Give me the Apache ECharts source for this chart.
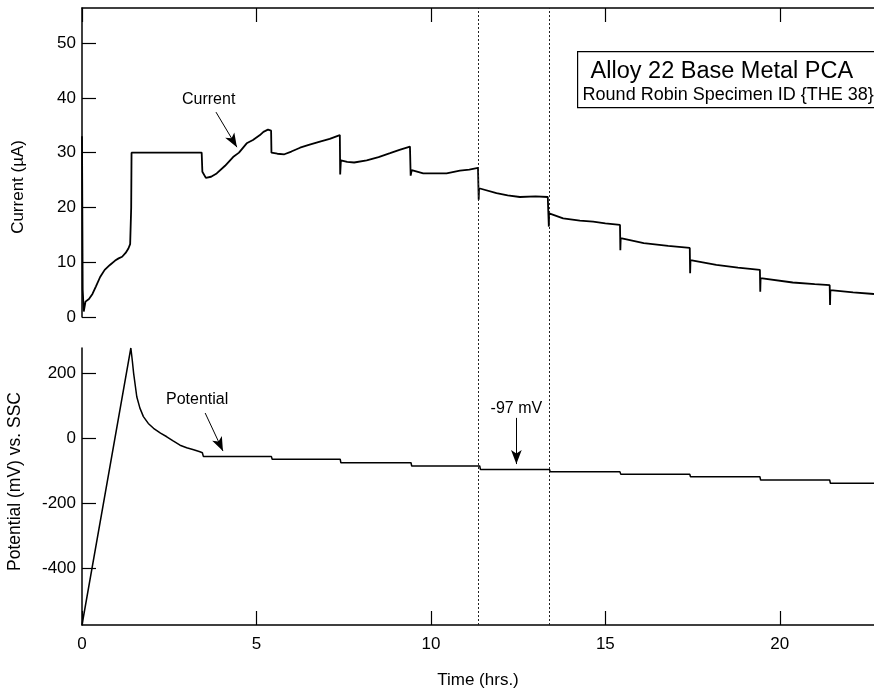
<!DOCTYPE html>
<html>
<head>
<meta charset="utf-8">
<script src="https://cdn.jsdelivr.net/npm/echarts@6/dist/echarts.min.js"></script>
<style>
html,body{margin:0;padding:0;background:#fff;}
#c{width:874px;height:691px;}
</style>
</head>
<body>
<div id="c"></div>
<script>
// ---- data ----
const currentTime = [0, 0.02, 0.05, 0.1, 0.2, 0.3, 0.4, 0.52, 0.65, 0.8, 0.95, 1.05, 1.15, 1.25, 1.33, 1.38, 1.41, 1.42,
  3.43, 3.45, 3.55, 3.7, 3.86, 4.1, 4.33, 4.5, 4.72, 4.9, 5.1, 5.2, 5.33, 5.42,
  5.43, 5.6, 5.8, 6.0, 6.25, 6.5, 6.82, 7.1, 7.39,
  7.4, 7.42, 7.6, 7.8, 8.16, 8.5, 8.83, 9.1, 9.4,
  9.42, 9.45, 9.78, 10.1, 10.45, 10.83, 11.1, 11.35,
  11.37, 11.38, 11.88, 12.2, 12.55, 13.0, 13.35,
  13.38, 13.39, 13.79, 14.27, 14.65, 15.0, 15.42,
  15.43, 15.44, 16.1, 16.8, 17.42,
  17.43, 17.44, 18.18, 18.8, 19.43,
  19.44, 19.45, 20.37, 21.0, 21.43,
  21.44, 21.45, 22.1, 22.7];
const currentValue = [33, 5, 1.0, 2.8, 3.3, 4.2, 5.6, 7.3, 8.6, 9.5, 10.3, 10.7, 11.0, 11.7, 12.5, 13.3, 20, 30,
  30, 26.5, 25.4, 25.6, 26.2, 27.6, 29.2, 30.0, 31.7, 32.3, 33.2, 33.8, 34.2, 34.0,
  30.0, 29.8, 29.7, 30.2, 30.9, 31.4, 32.0, 32.5, 33.2,
  26.0, 28.6, 28.3, 28.2, 28.6, 29.2, 29.9, 30.5, 31.1,
  25.8, 26.8, 26.2, 26.2, 26.2, 26.7, 26.9, 27.2,
  21.4, 23.5, 22.6, 22.2, 21.9, 22.0, 21.9,
  16.5, 18.9, 18.0, 17.6, 17.4, 17.1, 16.8,
  12.2, 14.4, 13.5, 13.0, 12.6,
  8.0, 10.4, 9.5, 9.0, 8.6,
  4.6, 7.1, 6.3, 6.0, 5.8,
  2.2, 4.9, 4.5, 4.2];

const potentialTime = [0, 1.40, 1.44, 1.48, 1.57, 1.66, 1.76, 1.9, 2.05, 2.25, 2.43, 2.6, 2.81, 3.0, 3.2, 3.38, 3.45,
  3.48, 5.43, 5.45, 7.4, 7.42, 9.43, 9.45, 11.4, 11.42, 13.4, 13.42, 15.42, 15.44, 17.42, 17.44, 19.43, 19.45, 21.43, 21.45, 22.7];
const potentialValue = [-575, 277, 240, 199, 127, 92, 66, 45, 30, 15, 4, -8, -22, -30, -36, -42, -45,
  -57, -57, -65, -65, -76, -76, -86, -86, -97, -97, -104, -104, -111, -111, -119, -119, -129, -129, -139, -139];

const xTicks = [0, 5, 10, 15, 20];
const currentTicks = [0, 10, 20, 30, 40, 50];
const potentialTicks = [-400, -200, 0, 200];
const markerTimes = [11.37, 13.4];

const titleMain = 'Alloy 22 Base Metal PCA';
const titleSub = 'Round Robin Specimen ID {THE 38}';
const xName = 'Time (hrs.)';
const currentName = 'Current (\u00B5A)';
const potentialName = 'Potential (mV) vs. SSC';

// annotation anchors (data units)
const currentNote = {text: 'Current', at: [3.63, 39.6], from: [3.84, 37.4], to: [4.44, 31.0]};
const potentialNote = {text: 'Potential', at: [3.30, 117], from: [3.53, 77], to: [4.04, -40]};
const mvNote = {text: '-97 mV', at: [12.45, 92], from: [12.45, 62], to: [12.45, -80]};

// ---- chart ----
const FONT = '"Liberation Sans", Arial, Helvetica, sans-serif';
const BLK = '#000';
const pair = (xs, ys) => xs.map((x, i) => [x, ys[i]]);

const chart = echarts.init(document.getElementById('c'), null, {renderer: 'canvas'});

const axisCommon = {
  axisLine: {show: true, onZero: false, lineStyle: {color: BLK, width: 1.5}},
  axisTick: {show: true, inside: true, length: 14, lineStyle: {color: BLK, width: 1.2}},
  splitLine: {show: false},
  axisLabel: {color: BLK, fontFamily: FONT, fontSize: 17}
};

function arrowLine(note) {
  return [{coord: note.from}, {coord: note.to}];
}
function notePoint(note) {
  return {coord: note.at, value: note.text, name: note.text};
}

const option = {
  animation: false,
  backgroundColor: '#fff',
  grid: [
    {left: 82, right: 0, top: 8, height: 309},
    {left: 82, right: 0, top: 348, height: 277},
    {left: 82, right: 0, top: 8, height: 617}
  ],
  xAxis: [
    {gridIndex: 0, type: 'value', min: 0, max: 22.7, show: false},
    Object.assign({}, axisCommon, {gridIndex: 0, type: 'value', min: 0, max: 22.7, position: 'top',
      axisTick: Object.assign({}, axisCommon.axisTick, {customValues: xTicks}),
      axisLabel: {show: false}}),
    Object.assign({}, axisCommon, {gridIndex: 1, type: 'value', min: 0, max: 22.7, position: 'bottom',
      axisTick: Object.assign({}, axisCommon.axisTick, {customValues: xTicks}),
      axisLabel: Object.assign({}, axisCommon.axisLabel, {customValues: xTicks, margin: 11}),
      name: xName, nameLocation: 'middle', nameGap: 47,
      nameTextStyle: {color: BLK, fontFamily: FONT, fontSize: 17}}),
    {gridIndex: 2, type: 'value', min: 0, max: 22.7, show: false}
  ],
  yAxis: [
    Object.assign({}, axisCommon, {gridIndex: 0, type: 'value', min: 0, max: 56.4,
      axisTick: Object.assign({}, axisCommon.axisTick, {customValues: currentTicks}),
      axisLabel: Object.assign({}, axisCommon.axisLabel, {customValues: currentTicks, margin: 6})}),
    Object.assign({}, axisCommon, {gridIndex: 1, type: 'value', min: -575, max: 277,
      axisTick: Object.assign({}, axisCommon.axisTick, {customValues: potentialTicks}),
      axisLabel: Object.assign({}, axisCommon.axisLabel, {customValues: potentialTicks, margin: 6})}),
    {gridIndex: 2, type: 'value', min: 0, max: 1, show: false}
  ],
  graphic: [
    {type: 'text', left: 10, top: 140, rotation: Math.PI / 2,
      style: {text: currentName, fill: BLK, font: '17px ' + FONT}},
    {type: 'text', left: 6, top: 392, rotation: Math.PI / 2,
      style: {text: potentialName, fill: BLK, font: '17.5px ' + FONT}},
    {type: 'group', left: 577, top: 51, children: [
      {type: 'rect', shape: {x: 0, y: 0, width: 320, height: 56},
        style: {fill: '#fff', stroke: BLK, lineWidth: 1.2}},
      {type: 'text', x: 13, y: 8, style: {text: titleMain, fill: BLK, font: '23.5px ' + FONT}},
      {type: 'text', x: 5, y: 34, style: {text: titleSub, fill: BLK, font: '18px ' + FONT}}
    ]}
  ],
  series: [
    {
      name: 'Current', type: 'line', xAxisIndex: 0, yAxisIndex: 0,
      data: pair(currentTime, currentValue), showSymbol: false, symbol: 'none',
      lineStyle: {color: BLK, width: 1.8}, z: 3,
      markLine: {silent: true, symbol: ['none', 'arrow'], symbolSize: [8, 14],
        lineStyle: {color: BLK, width: 1, type: 'solid'}, label: {show: false},
        data: [arrowLine(currentNote)]},
      markPoint: {symbol: 'circle', symbolSize: 0, silent: true,
        label: {show: true, position: 'inside', color: BLK, fontFamily: FONT, fontSize: 16,
          formatter: p => p.name},
        data: [notePoint(currentNote)]}
    },
    {
      name: 'Potential', type: 'line', xAxisIndex: 2, yAxisIndex: 1,
      data: pair(potentialTime, potentialValue), showSymbol: false, symbol: 'none',
      lineStyle: {color: BLK, width: 1.5}, z: 3,
      markLine: {silent: true, symbol: ['none', 'arrow'], symbolSize: [8, 14],
        lineStyle: {color: BLK, width: 1, type: 'solid'}, label: {show: false},
        data: [arrowLine(potentialNote), arrowLine(mvNote)]},
      markPoint: {symbol: 'circle', symbolSize: 0, silent: true,
        label: {show: true, position: 'inside', color: BLK, fontFamily: FONT, fontSize: 16,
          formatter: p => p.name},
        data: [notePoint(potentialNote), notePoint(mvNote)]}
    },
    {
      name: 'markers', type: 'line', xAxisIndex: 3, yAxisIndex: 2, data: [],
      markLine: {silent: true, symbol: ['none', 'none'], label: {show: false},
        lineStyle: {color: '#222', width: 1, type: [2, 2]},
        data: markerTimes.map(t => ({xAxis: t}))}
    }
  ]
};
chart.setOption(option);
</script>
</body>
</html>
